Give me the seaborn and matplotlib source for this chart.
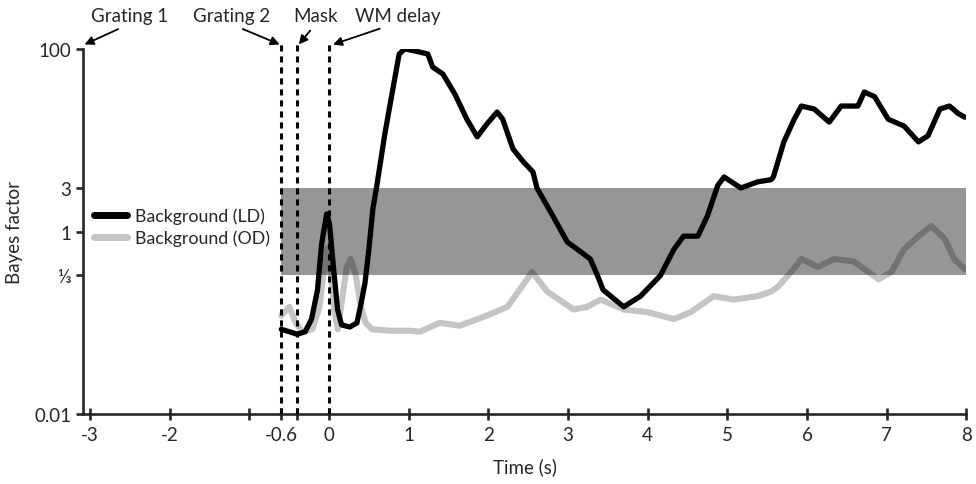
import numpy as np
import pandas as pd
import matplotlib
matplotlib.use("Agg")
import matplotlib.pyplot as plt
import seaborn as sns
from matplotlib.ticker import FixedLocator, NullLocator

# Bayes factor time courses
time_ld = [-0.60, -0.50, -0.40, -0.30, -0.22, -0.145, -0.094, -0.03, 0.006, 0.057,
           0.107, 0.157, 0.26, 0.35, 0.40, 0.45, 0.50, 0.55, 0.60, 0.70,
           0.80, 0.88, 0.95, 1.08, 1.24, 1.30, 1.43, 1.58, 1.73, 1.86,
           1.98, 2.11, 2.18, 2.31, 2.44, 2.56, 2.61, 2.81, 2.99, 3.16,
           3.28, 3.37, 3.44, 3.70, 3.91, 4.16, 4.33, 4.45, 4.63, 4.75,
           4.88, 4.96, 5.17, 5.38, 5.55, 5.58, 5.71, 5.84, 5.93, 6.09,
           6.28, 6.43, 6.64, 6.72, 6.85, 7.02, 7.22, 7.40, 7.52, 7.67,
           7.79, 7.90, 7.98]
bf_ld = [0.085, 0.08, 0.075, 0.08, 0.11, 0.23, 0.73, 1.56, 1.2, 0.39,
         0.14, 0.095, 0.09, 0.1, 0.16, 0.27, 0.64, 1.77, 3.2, 11.7,
         36, 88, 100, 95, 88, 63.5, 53, 32, 17, 10.9,
         15, 20.4, 17, 8.0, 5.8, 4.5, 3.0, 1.48, 0.77, 0.6,
         0.5, 0.33, 0.23, 0.15, 0.196, 0.33, 0.64, 0.89, 0.89, 1.48,
         3.2, 3.96, 3.0, 3.5, 3.7, 4.0, 9.6, 17, 23.7, 22,
         15.8, 23.7, 23.7, 33.8, 30, 17, 14.3, 9.6, 11.2, 22,
         23.7, 19.6, 17.9]

time_od = [-0.60, -0.50, -0.42, -0.33, -0.21, -0.12, -0.06, -0.02, 0.02, 0.07,
           0.11, 0.17, 0.22, 0.27, 0.33, 0.40, 0.46, 0.54, 0.76, 1.01,
           1.14, 1.39, 1.64, 1.98, 2.24, 2.42, 2.55, 2.74, 3.07, 3.24,
           3.41, 3.70, 4.00, 4.33, 4.54, 4.83, 5.08, 5.38, 5.55, 5.64,
           5.80, 5.93, 6.14, 6.34, 6.59, 6.90, 7.06, 7.22, 7.40, 7.56,
           7.73, 7.85, 7.98]
bf_od = [0.12, 0.15, 0.1, 0.079, 0.085, 0.15, 0.42, 0.66, 0.35, 0.13,
         0.085, 0.2, 0.4, 0.5, 0.35, 0.15, 0.1, 0.085, 0.082, 0.082,
         0.08, 0.1, 0.093, 0.12, 0.15, 0.25, 0.36, 0.22, 0.14, 0.15,
         0.18, 0.14, 0.131, 0.11, 0.131, 0.196, 0.18, 0.196, 0.22, 0.25,
         0.36, 0.5, 0.41, 0.5, 0.47, 0.3, 0.36, 0.64, 0.89, 1.15,
         0.83, 0.5, 0.39]

events = ["Grating 1", "Grating 2", "Mask", "WM delay"]
event_times = [-3.0, -0.6, -0.4, 0.0]
x_ticks = [-3, -2, -1, -0.6, -0.4, 0, 1, 2, 3, 4, 5, 6, 7, 8]
x_labels = ["-3", "-2", "", "-0.6", "", "0", "1", "2", "3", "4", "5", "6", "7", "8"]
y_ticks = [0.01, 1 / 3, 1, 3, 100]
y_labels = ["0.01", "\u2153", "1", "3", "100"]

sns.set_style("ticks")
plt.rcParams["font.family"] = ["Lato", "DejaVu Sans"]
fs = 13.5

fig = plt.figure(figsize=(9.76, 4.85), dpi=100)
ax = fig.add_axes([0.085, 0.144, 0.905, 0.753])

df_ld = pd.DataFrame({"t": time_ld, "bf": bf_ld})
df_od = pd.DataFrame({"t": time_od, "bf": bf_od})
sns.lineplot(data=df_od, x="t", y="bf", ax=ax, color="#c4c4c4", lw=4.4,
             label="Background (OD)", zorder=2)
sns.lineplot(data=df_ld, x="t", y="bf", ax=ax, color="black", lw=3.8,
             label="Background (LD)", zorder=2)

# evidence-inconclusive band (1/3 to 3)
ax.fill_between([-0.6, 8], 1 / 3, 3, color="black", alpha=0.41, lw=0, zorder=3)

# event markers
ax.vlines(event_times[1:], 0.01, 112, colors="black", lw=2.2,
          linestyles=(0, (2, 1.6)), zorder=4, clip_on=False)

ax.set_yscale("log")
ax.set_xlim(-3.09, 8)
ax.set_ylim(0.01, 100)
ax.yaxis.set_major_locator(FixedLocator(y_ticks))
ax.set_yticklabels(y_labels)
ax.yaxis.set_minor_locator(NullLocator())
ax.set_xticks(x_ticks)
ax.set_xticklabels(x_labels)

for s in ["top", "right"]:
    ax.spines[s].set_visible(False)
for s in ["left", "bottom"]:
    ax.spines[s].set_linewidth(1.9)
ax.tick_params(axis="y", length=5, width=1.9, labelsize=fs)
ax.tick_params(axis="x", direction="inout", length=9, width=1.9, labelsize=fs, pad=4)

ax.set_xlabel("Time (s)", fontsize=fs, labelpad=10)
ax.set_ylabel("Bayes factor", fontsize=fs, labelpad=8)

# event labels with arrows
text_x = [-2.51, -1.23, -0.17, 0.86]
tip_x = [-3.07, -0.62, -0.38, 0.05]
rel = [(0.5, 0.0), (0.5, 0.0), (0.5, 0.0), (0.45, 0.0)]
for name, tx, px, rp in zip(events, text_x, tip_x, rel):
    ax.annotate(name, xy=(px, 112), xytext=(tx, 232), ha="center", va="center",
                fontsize=fs, annotation_clip=False,
                arrowprops=dict(arrowstyle="-|>", color="black", lw=1.3,
                                mutation_scale=13, shrinkA=3, shrinkB=0, relpos=rp))

handles, labels = ax.get_legend_handles_labels()
leg = ax.legend(handles[::-1], labels[::-1], loc="upper left",
                bbox_to_anchor=(0.0, 0.595), frameon=False, fontsize=12.8,
                handlelength=1.9, handletextpad=0.45, labelspacing=0.3,
                borderaxespad=0.2)
for h in leg.get_lines():
    h.set_linewidth(5)

fig.savefig("out.png", dpi=100)
